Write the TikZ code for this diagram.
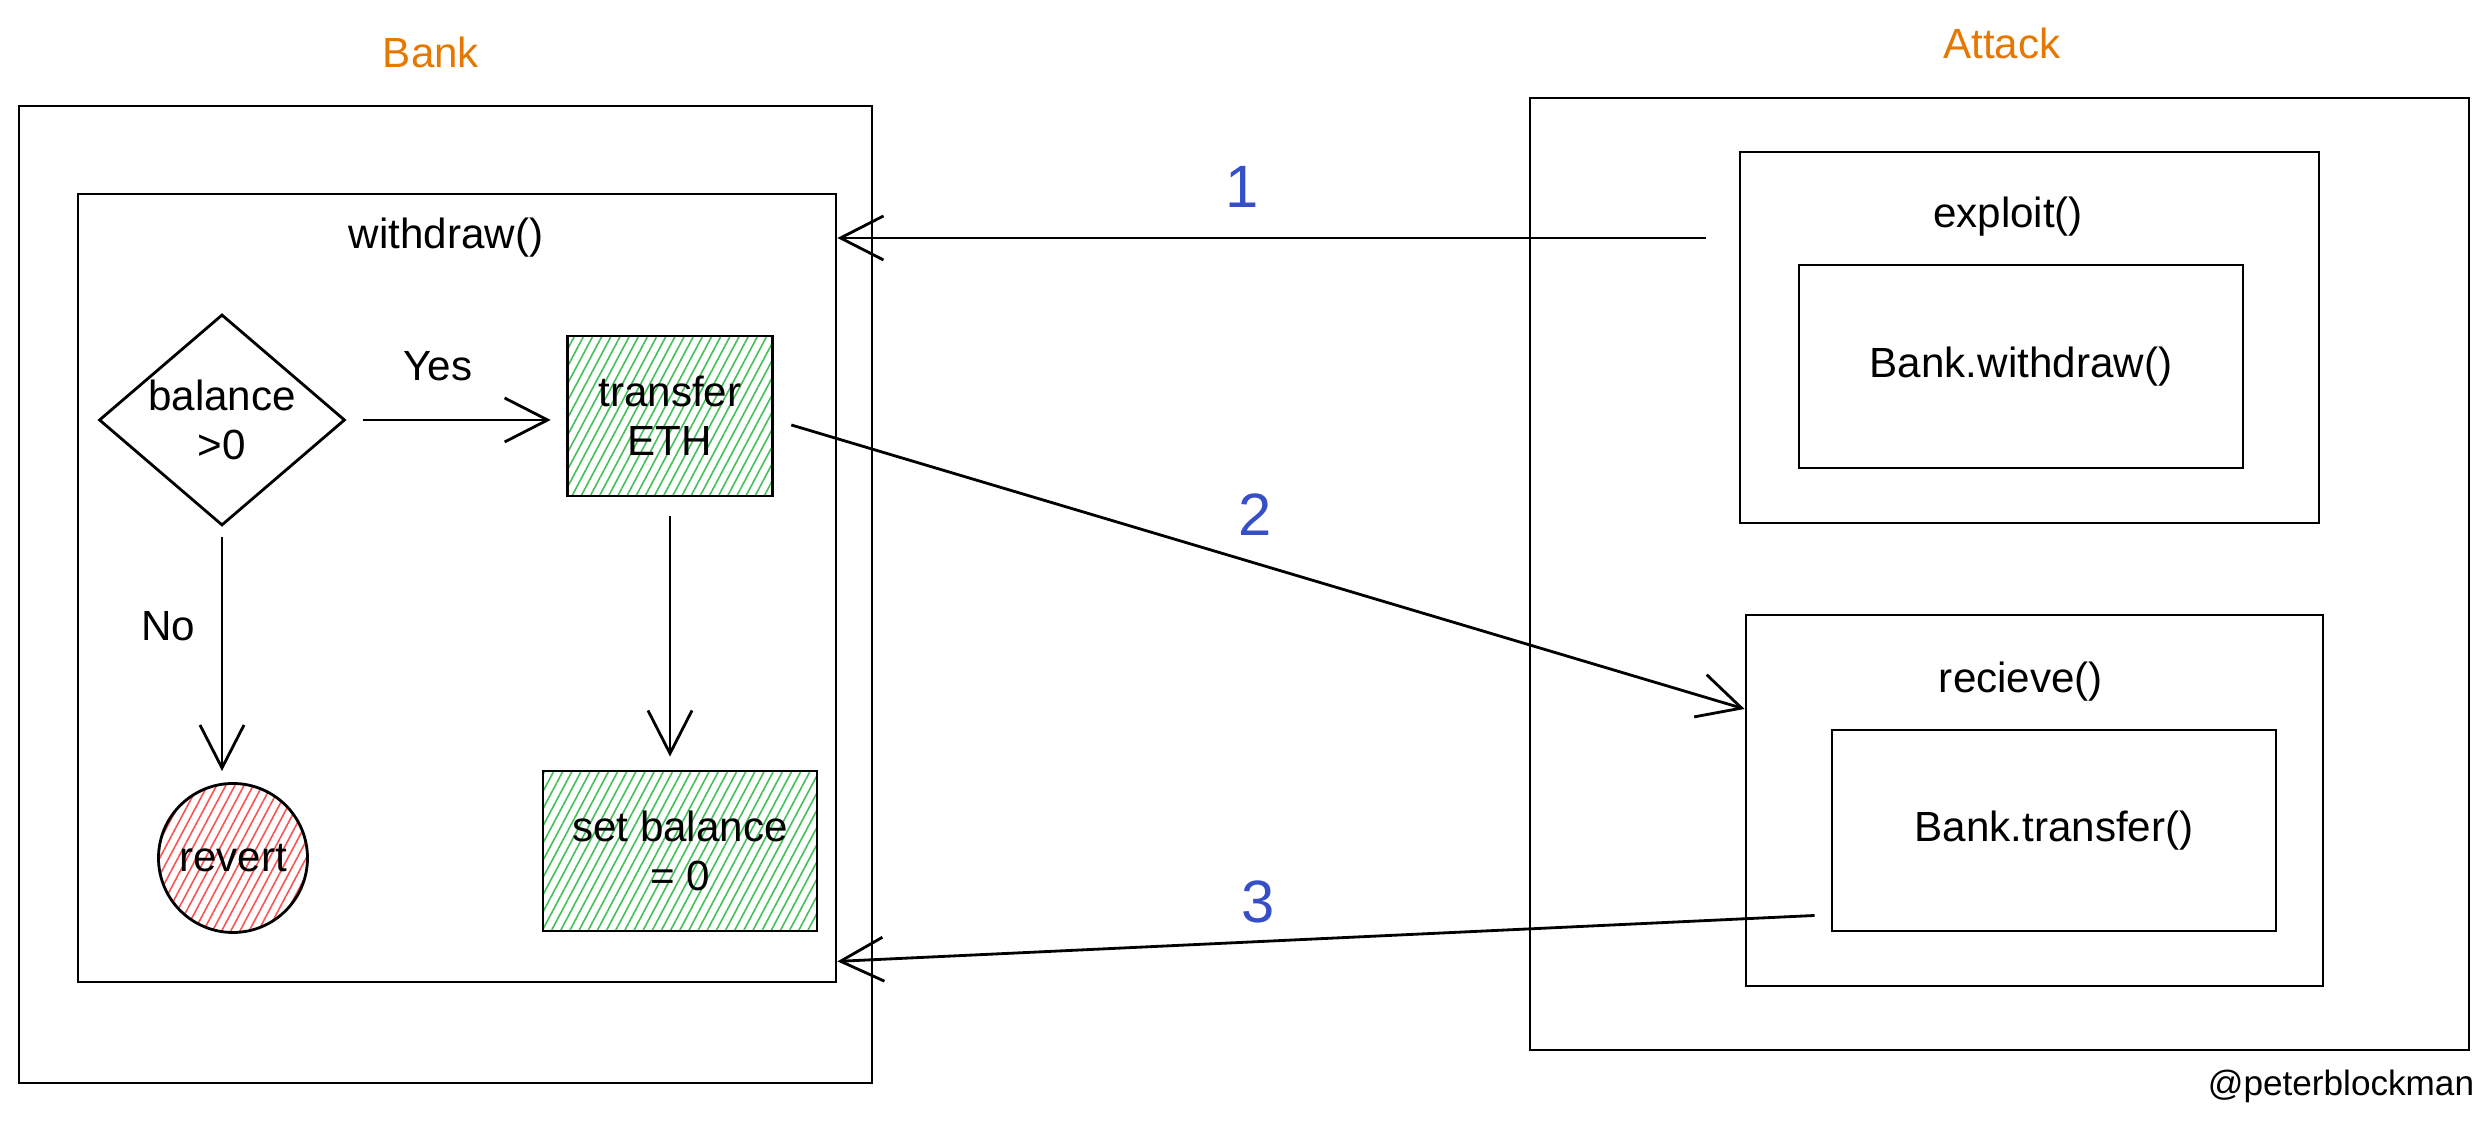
\documentclass[tikz,border=0pt]{standalone}
\usepackage{fontspec}
\setmainfont{Liberation Sans}
\usetikzlibrary{positioning,arrows.meta,shapes.geometric,patterns.meta}
\definecolor{exorange}{HTML}{E67700}
\definecolor{exblue}{HTML}{364FC7}
\definecolor{exgreen}{HTML}{40C057}
\definecolor{exred}{HTML}{FA5252}

\begin{document}
\begin{tikzpicture}[
  frame/.style={draw=black, line width=0.8pt, inner sep=0pt},
  call/.style={draw=black, line width=0.8pt, inner sep=0pt,
               font=\fontsize{12}{14}\selectfont},
  stepbox/.style={draw=black, line width=0.8pt, minimum width=2.05cm,
                  minimum height=1.6cm, align=center,
                  pattern={Lines[angle=62, distance=2.3pt, line width=0.45pt]},
                  pattern color=exgreen, font=\fontsize{12}{14}\selectfont},
  decision/.style={diamond, draw=black, line width=0.8pt, inner sep=0pt,
                   minimum width=2.46cm, minimum height=2.11cm},
  stopnode/.style={circle, draw=black, line width=0.8pt, minimum size=1.49cm,
                   pattern={Lines[angle=62, distance=2.3pt, line width=0.45pt]},
                   pattern color=exred, font=\fontsize{12}{14}\selectfont},
  txt/.style={font=\fontsize{12}{14}\selectfont, align=center},
  title/.style={font=\fontsize{12}{14}\selectfont, text=exorange},
  num/.style={font=\fontsize{17}{20}\selectfont, text=exblue},
  edge/.style={line width=0.8pt, -{Straight Barb[length=4.3mm, width=4.4mm]}},
]
\useasboundingbox (0, 0) rectangle (24.87, 11.24);

% Bank contract
\node[title] (banklbl) at (4.31, 10.72) {Bank};
\node[frame, minimum width=8.53cm, minimum height=9.77cm] (bank) at (4.455, 5.295) {};
\node[frame, minimum width=7.58cm, minimum height=7.88cm] (wdbox) at (4.57, 5.36) {};
\node[txt] (wdlbl) at (4.46, 8.86) {withdraw()};

% withdraw() flow
\node[decision] (bal) at (2.22, 7.04) {};
\node[txt] (baltxt) at (bal) {balance\\>0};
\node[stepbox] (transfer) at (6.70, 7.08) {transfer\\ETH};
\node[stopnode] (revert) at (2.33, 2.66) {revert};
\node[stepbox, minimum width=2.74cm] (setbal) at (6.80, 2.73) {set balance\\= 0};
\node[txt] (yes) at (4.38, 7.58) {Yes};
\node[txt] (no) at (1.68, 4.98) {No};

% Attack contract
\node[title] (attacklbl) at (20.02, 10.81) {Attack};
\node[frame, minimum width=9.39cm, minimum height=9.52cm] (attack) at (19.995, 5.50) {};
\node[frame, minimum width=5.79cm, minimum height=3.71cm] (exploit) at (20.295, 7.865) {};
\node[txt] (exploitlbl) at (20.08, 9.07) {exploit()};
\node[call, minimum width=4.44cm, minimum height=2.03cm] (bwithdraw) at (20.21, 7.575) {Bank.withdraw()};
\node[frame, minimum width=5.77cm, minimum height=3.71cm] (recieve) at (20.345, 3.235) {};
\node[txt] (recievelbl) at (20.21, 4.42) {recieve()};
\node[call, minimum width=4.44cm, minimum height=2.01cm] (btransfer) at (20.54, 2.935) {Bank.transfer()};

% Step numbers
\node[num] (n1) at (12.42, 9.37) {1};
\node[num] (n2) at (12.55, 6.09) {2};
\node[num] (n3) at (12.58, 2.22) {3};

\node[txt, font=\fontsize{10}{12}\selectfont] (sign) at (23.41, 0.38) {@peterblockman};

% Edges
\draw[edge, shorten <=1.7mm, shorten >=1.6mm] (bal.east) -- (bal.east -| transfer.west);
\draw[edge, shorten <=1mm, shorten >=1.1mm] (bal.south) -- (bal.south |- revert.north);
\draw[edge, shorten <=1.9mm, shorten >=1.3mm] (transfer.south) -- (transfer.south |- setbal.north);
\draw[edge] ([xshift=-3.3mm]exploit.west |- wdlbl) -- (wdbox.east |- wdlbl);
\draw[edge] ([xshift=1.8mm, yshift=-0.9mm]transfer.east) -- ([yshift=9.15mm]recieve.west);
\draw[edge] ([xshift=-1.6mm, yshift=-8.5mm]btransfer.west) -- ([yshift=2.2mm]wdbox.south east);

\end{tikzpicture}
\end{document}
